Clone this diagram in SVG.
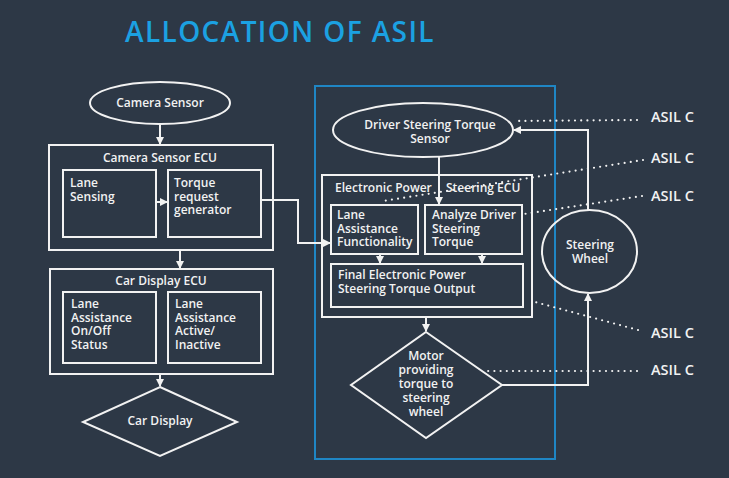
<svg xmlns="http://www.w3.org/2000/svg" width="729" height="478" viewBox="0 0 729 478">
<defs>
<style>
.bg{fill:#2d3846}
.box{fill:none;stroke:#f2f2f2;stroke-width:2}
.arr{fill:none;stroke:#f2f2f2;stroke-width:2;marker-end:url(#ah)}
.dot{fill:none;stroke:#f2f2f2;stroke-width:2.2;stroke-linecap:round;stroke-dasharray:0 6.2}
.t{font-family:"Open Sans","Noto Sans","DejaVu Sans",sans-serif;font-size:12px;font-weight:600;fill:#f2f2f2}
.c{text-anchor:middle}
.asil{font-family:"Open Sans","Noto Sans","DejaVu Sans",sans-serif;font-size:14.5px;font-weight:600;fill:#f2f2f2}
</style>
<marker id="ah" markerUnits="userSpaceOnUse" markerWidth="8" markerHeight="8" refX="7" refY="4" orient="auto">
<path d="M0,0 L8,4 L0,8 z" fill="#f2f2f2"/>
</marker>
</defs>
<rect class="bg" x="0" y="0" width="729" height="478"/>
<text x="125" y="42" font-family="'Open Sans','Noto Sans',sans-serif" font-size="28" font-weight="600" letter-spacing="1.4" fill="#1ba1e2">ALLOCATION OF ASIL</text>

<rect x="315" y="86" width="240" height="373" fill="none" stroke="#1f86c4" stroke-width="2"/>

<g id="camera-sensor">
<ellipse class="box" cx="160" cy="103" rx="70" ry="21"/>
<text class="t c" x="160" y="107">Camera Sensor</text>
</g>
<g id="camera-sensor-ecu">
<rect class="box" x="49" y="145" width="224" height="105"/>
<text class="t c" x="160" y="162">Camera Sensor ECU</text>
</g>
<g id="lane-sensing">
<rect class="box" x="63" y="170" width="93" height="67"/>
<text class="t" x="70" y="187"><tspan x="70">Lane</tspan><tspan x="70" dy="13.5">Sensing</tspan></text>
</g>
<g id="torque-request">
<rect class="box" x="168" y="170" width="93" height="67"/>
<text class="t" x="174" y="187"><tspan x="174">Torque</tspan><tspan x="174" dy="13.5">request</tspan><tspan x="174" dy="13.5">generator</tspan></text>
</g>
<g id="car-display-ecu">
<rect class="box" x="50" y="269" width="223" height="105"/>
<text class="t c" x="161" y="285">Car Display ECU</text>
</g>
<g id="lane-onoff">
<rect class="box" x="63" y="292" width="93" height="71"/>
<text class="t" x="71" y="308"><tspan x="71">Lane</tspan><tspan x="71" dy="13.5">Assistance</tspan><tspan x="71" dy="13.5">On/Off</tspan><tspan x="71" dy="13.5">Status</tspan></text>
</g>
<g id="lane-active">
<rect class="box" x="168" y="292" width="93" height="71"/>
<text class="t" x="175" y="308"><tspan x="175">Lane</tspan><tspan x="175" dy="13.5">Assistance</tspan><tspan x="175" dy="13.5">Active/</tspan><tspan x="175" dy="13.5">Inactive</tspan></text>
</g>
<g id="car-display">
<polygon class="box" points="160,387 237,422 160,456 83,422"/>
<text class="t c" x="160" y="425">Car Display</text>
</g>

<g id="driver-torque-sensor">
<ellipse class="box" cx="423" cy="130" rx="90" ry="27"/>
<text class="t c" x="430" y="129"><tspan x="430">Driver Steering Torque</tspan><tspan x="430" dy="14">Sensor</tspan></text>
</g>
<g id="eps-ecu">
<rect class="box" x="322" y="175" width="210" height="142"/>
<text class="t" x="335" y="192">Electronic Power<tspan x="446">Steering ECU</tspan></text>
</g>
<g id="lane-assist-func">
<rect class="box" x="331" y="205" width="87" height="49"/>
<text class="t" x="337" y="219"><tspan x="337">Lane</tspan><tspan x="337" dy="13.5">Assistance</tspan><tspan x="337" dy="13.5">Functionality</tspan></text>
</g>
<g id="analyze-driver">
<rect class="box" x="425" y="205" width="97" height="49"/>
<text class="t" x="432" y="219"><tspan x="432">Analyze Driver</tspan><tspan x="432" dy="13.5">Steering</tspan><tspan x="432" dy="13.5">Torque</tspan></text>
</g>
<g id="final-eps">
<rect class="box" x="331" y="264" width="192" height="43"/>
<text class="t" x="338" y="279"><tspan x="338">Final Electronic Power</tspan><tspan x="338" dy="14">Steering Torque Output</tspan></text>
</g>
<g id="motor">
<polygon class="box" points="426,332 502,385 426,438 351,385"/>
<text class="t c" x="426" y="360"><tspan x="426">Motor</tspan><tspan x="426" dy="14">providing</tspan><tspan x="426" dy="14">torque to</tspan><tspan x="426" dy="14">steering</tspan><tspan x="426" dy="14">wheel</tspan></text>
</g>
<g id="steering-wheel">
<ellipse class="box" cx="589.5" cy="251.5" rx="47.5" ry="41.5"/>
<text class="t c" x="590" y="249"><tspan x="590">Steering</tspan><tspan x="590" dy="14">Wheel</tspan></text>
</g>
<g id="asil-labels">
<text class="asil" x="651" y="122">ASIL C</text>
<text class="asil" x="651" y="163">ASIL C</text>
<text class="asil" x="651" y="201">ASIL C</text>
<text class="asil" x="651" y="338">ASIL C</text>
<text class="asil" x="651" y="375">ASIL C</text>
</g>

<g id="connectors">
<path class="arr" d="M160,124 V144"/>
<path class="arr" d="M156,202 H167"/>
<path class="arr" d="M180,250 V268"/>
<path class="arr" d="M160,374 V386"/>
<path class="arr" d="M261,200 H298 V243 H330"/>
<path class="arr" d="M439,157 V204"/>
<path class="arr" d="M380,254 V263"/>
<path class="arr" d="M482,254 V263"/>
<path class="arr" d="M426,317 V331"/>
<path class="arr" d="M502,385 H588 V294"/>
<path class="arr" d="M588,210 V130 H514"/>
<path class="dot" d="M637,120 L515,121"/>
<path class="dot" d="M643,160 L383,201"/>
<path class="dot" d="M642,196 L524,214"/>
<path class="dot" d="M638,330 L535,302"/>
<path class="dot" d="M637,371 L487,371"/>
</g>
</svg>
